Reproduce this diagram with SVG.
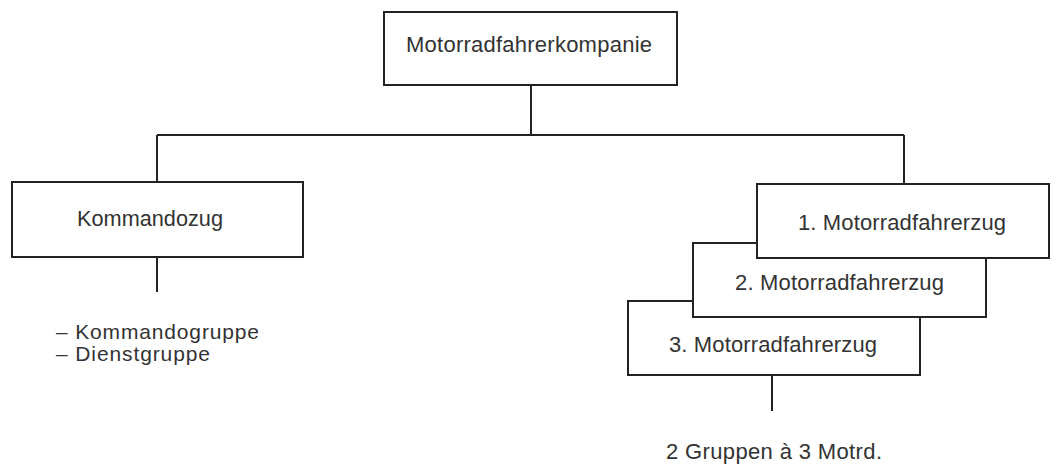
<svg xmlns="http://www.w3.org/2000/svg" width="1059" height="465" viewBox="0 0 1059 465">
<style>
.box{fill:#fff;stroke:#222;stroke-width:2}
.ln{stroke:#222;stroke-width:2;fill:none}
.t{font-family:"Liberation Sans","DejaVu Sans",sans-serif;font-size:22px;fill:#333}
.s{font-size:21px}
</style>
<rect width="1059" height="465" fill="#fff"/>
<g id="connectors">
<path class="ln" d="M531,85V135M157,135H904M157,135V182M904,135V184M157,257V292M772,375V411"/>
</g>
<g id="company">
<rect class="box" x="384" y="12" width="293" height="73"/>
<text class="t" x="406" y="52" textLength="246" lengthAdjust="spacing">Motorradfahrerkompanie</text>
</g>
<g id="kommandozug">
<rect class="box" x="12" y="182" width="291" height="75"/>
<text class="t" x="77" y="226" textLength="146" lengthAdjust="spacingAndGlyphs">Kommandozug</text>
</g>
<g id="kommandozug-list">
<text class="t s" x="56" y="339" textLength="203" lengthAdjust="spacing">– Kommandogruppe</text>
<text class="t s" x="56" y="361" textLength="154" lengthAdjust="spacing">– Dienstgruppe</text>
</g>
<g id="zug3">
<rect class="box" x="628" y="301" width="292" height="74"/>
<text class="t" x="669" y="352" textLength="208" lengthAdjust="spacing">3. Motorradfahrerzug</text>
</g>
<g id="zug2">
<rect class="box" x="693" y="243" width="293" height="74"/>
<text class="t" x="735" y="290" textLength="209" lengthAdjust="spacing">2. Motorradfahrerzug</text>
</g>
<g id="zug1">
<rect class="box" x="757" y="184" width="292" height="74"/>
<text class="t" x="798" y="230" textLength="208" lengthAdjust="spacing">1. Motorradfahrerzug</text>
</g>
<g id="gruppen">
<text class="t" x="666" y="459" textLength="216" lengthAdjust="spacing">2 Gruppen à 3 Motrd.</text>
</g>
</svg>
